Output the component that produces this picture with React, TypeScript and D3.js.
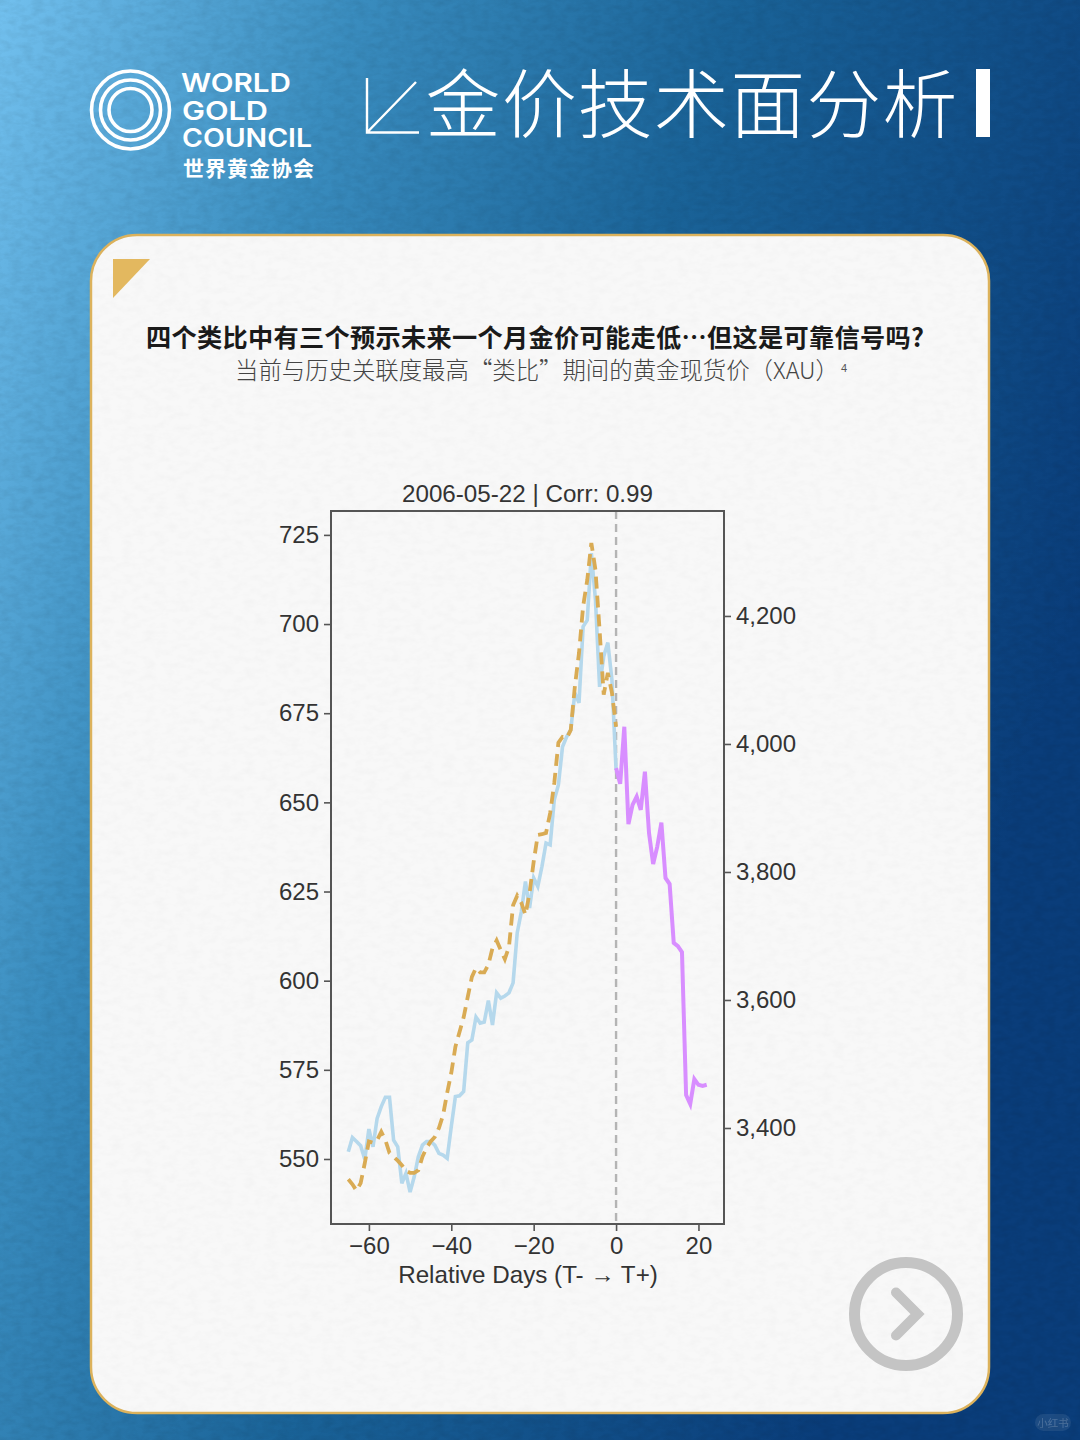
import { useEffect, useRef } from "react";
import * as d3 from "d3";

const width = 1080;
const height = 1440;

// historical analog, left axis
const pastValues = [
  552.0, 556.0, 554.9, 553.7, 549.9, 558.4, 553.4, 561.4, 564.7, 567.3, 567.3,
  555.3, 553.4, 543.2, 546.0, 540.7, 545.0, 550.6, 553.9, 554.9, 554.9, 553.9,
  551.6, 551.1, 550.2, 559.1, 567.5, 567.7, 568.9, 582.6, 583.4, 589.8, 588.1,
  588.4, 594.4, 587.6, 596.6, 595.1, 595.7, 596.6, 599.4, 613.4, 619.3, 627.8,
  620.4, 628.8, 626.4, 632.0, 638.6, 638.1, 650.7, 654.9, 665.6, 668.4, 670.3,
  680.7, 677.9, 699.3, 701.1, 719.9, 706.8, 682.4, 690.9, 694.8, 684.3, 659.1,
];
const futureValues = [
  659.6, 655.2, 671.2, 643.9, 649.3, 651.6, 647.9, 658.6, 641.4, 632.7, 637.6,
  644.3, 628.8, 627.1, 610.6, 609.7, 608.0, 567.9, 565.4, 572.4, 570.8, 570.5,
  570.8,
];
// current gold price, right axis
const currentValues = [
  3320, 3312, 3302, 3314, 3345, 3379, 3377, 3381, 3394, 3381, 3361, 3355, 3349,
  3342, 3333, 3330, 3330, 3334, 3355, 3369, 3379, 3386, 3400, 3420, 3455, 3486,
  3527, 3550, 3573, 3605, 3636, 3650, 3643, 3643, 3655, 3681, 3693, 3678, 3664,
  3683, 3748, 3763, 3752, 3733, 3767, 3816, 3858, 3859, 3861, 3892, 3939, 4002,
  4011, 4009, 4022, 4090, 4142, 4215, 4256, 4314, 4272, 4178, 4077, 4111, 4080,
  4027,
];
const pastDays = pastValues.map((_, i) => i - 65);
const futureDays = futureValues.map((_, i) => i);

const xTicks = [-60, -40, -20, 0, 20];
const leftTicks = [550, 575, 600, 625, 650, 675, 700, 725];
const rightTicks = [3400, 3600, 3800, 4000, 4200];

const frame = { left: 331, right: 724, top: 511, bottom: 1224 };
const chartFont = "'Liberation Sans', Arial, sans-serif";
const cjkFont = "'Noto Sans CJK SC', sans-serif";
const textColor = "#333";

export default function App() {
  const ref = useRef<SVGGElement | null>(null);

  useEffect(() => {
    if (!ref.current) return;
    const g = d3.select(ref.current);
    g.selectAll("*").remove();

    const x = d3.scaleLinear([-69.2, 26.2], [frame.left, frame.right]);
    const yLeft = d3.scaleLinear([531.77, 731.7], [frame.bottom, frame.top]);
    const yRight = d3.scaleLinear([3250, 4364], [frame.bottom, frame.top]);

    const styleAxis = (sel: any) => {
      sel.select("path").remove();
      sel.selectAll("line").attr("stroke", "#555").attr("stroke-width", 1.6);
      sel
        .selectAll("text")
        .attr("fill", textColor)
        .style("font-family", chartFont)
        .style("font-size", "24px");
    };

    g.append("g")
      .attr("transform", `translate(0,${frame.bottom})`)
      .call(d3.axisBottom(x).tickValues(xTicks).tickSize(7).tickPadding(6).tickFormat((d) => String(d).replace("-", "−")))
      .call(styleAxis);
    g.append("g")
      .attr("transform", `translate(${frame.left},0)`)
      .call(d3.axisLeft(yLeft).tickValues(leftTicks).tickSize(7).tickPadding(5).tickFormat((d) => String(d)))
      .call(styleAxis);
    g.append("g")
      .attr("transform", `translate(${frame.right},0)`)
      .call(d3.axisRight(yRight).tickValues(rightTicks).tickSize(7).tickPadding(5).tickFormat(d3.format(",")))
      .call(styleAxis);

    // marker at T
    g.append("line")
      .attr("x1", x(0))
      .attr("x2", x(0))
      .attr("y1", frame.top)
      .attr("y2", frame.bottom)
      .attr("stroke", "#b4b4b4")
      .attr("stroke-width", 2.4)
      .attr("stroke-dasharray", "8 5");

    const linePast = d3.line<number>().x((_, i) => x(pastDays[i])).y((d) => yLeft(d));
    const lineFuture = d3.line<number>().x((_, i) => x(futureDays[i])).y((d) => yLeft(d));
    const lineCurrent = d3.line<number>().x((_, i) => x(pastDays[i])).y((d) => yRight(d));

    g.append("path")
      .attr("d", linePast(pastValues))
      .attr("fill", "none")
      .attr("stroke", "#b5d8ec")
      .attr("stroke-width", 3.6);
    g.append("path")
      .attr("d", lineFuture(futureValues))
      .attr("fill", "none")
      .attr("stroke", "#d88eff")
      .attr("stroke-width", 4);
    g.append("path")
      .attr("d", lineCurrent(currentValues))
      .attr("fill", "none")
      .attr("stroke", "#d9ab54")
      .attr("stroke-width", 3.8)
      .attr("stroke-dasharray", "12 7");

    g.append("rect")
      .attr("x", frame.left)
      .attr("y", frame.top)
      .attr("width", frame.right - frame.left)
      .attr("height", frame.bottom - frame.top)
      .attr("fill", "none")
      .attr("stroke", "#555")
      .attr("stroke-width", 2);
  }, []);

  return (
    <svg
      width={width}
      height={height}
      viewBox={`0 0 ${width} ${height}`}
      style={{ position: "absolute", left: 0, top: 0 }}
    >
      <defs>
        <linearGradient id="bg" x1="0" y1="0" x2="1" y2="0.42">
          <stop offset="0" stopColor="#72c0ee" />
          <stop offset="0.28" stopColor="#3a8dbf" />
          <stop offset="0.58" stopColor="#1a6398" />
          <stop offset="1" stopColor="#0a3d7a" />
        </linearGradient>
        <filter id="paper" x="0" y="0" width="100%" height="100%">
          <feTurbulence type="fractalNoise" baseFrequency="0.09 0.16" numOctaves="3" seed="4" />
          <feColorMatrix values="0 0 0 0 0  0 0 0 0 0  0 0 0 0 0  0.16 0 0 0 -0.055" />
        </filter>
        <clipPath id="cardClip">
          <rect x={91} y={235} width={898} height={1178} rx={46} />
        </clipPath>
      </defs>

      <rect width={width} height={height} fill="url(#bg)" />
      <rect width={width} height={height} filter="url(#paper)" opacity={0.8} />

      {/* logo */}
      <g fill="none" stroke="#fff" strokeWidth={3.6}>
        <circle cx={130.5} cy={110} r={39} />
        <circle cx={130.5} cy={110} r={30} />
        <circle cx={130.5} cy={110} r={21.5} />
      </g>
      <text fill="#fff" style={{ fontFamily: "Inter, sans-serif", fontWeight: 600, fontSize: 25.5 }}>
        <tspan x={181} y={92} textLength={110} lengthAdjust="spacingAndGlyphs">WORLD</tspan>
        <tspan x={182} y={119.5} textLength={86} lengthAdjust="spacingAndGlyphs">GOLD</tspan>
        <tspan x={182} y={146.5} textLength={130} lengthAdjust="spacingAndGlyphs">COUNCIL</tspan>
      </text>
      <text x={183} y={176} fill="#fff" textLength={131} style={{ fontFamily: cjkFont, fontWeight: 700, fontSize: 21 }}>
        世界黄金协会
      </text>

      {/* header */}
      <path d="M367 78V132.5H419M416 82L367 132.5" fill="none" stroke="#fff" strokeWidth={2.4} />
      <text x={425.5} y={131.5} fill="#fff" textLength={532} style={{ fontFamily: cjkFont, fontWeight: 300, fontSize: 75 }}>
        金价技术面分析
      </text>
      <rect x={976} y={69} width={14} height={68} fill="#fff" />

      {/* card */}
      <rect x={91} y={235} width={898} height={1178} rx={46} fill="#f8f8f8" stroke="#dcb25c" strokeWidth={2.5} />
      <g clipPath="url(#cardClip)">
        <rect x={93} y={237} width={894} height={1174} filter="url(#paper)" opacity={0.22} />
      </g>
      <path d="M113 259H150L113 298Z" fill="#e3b85f" />

      <text x={146} y={347} fill="#1a1a1a" textLength={778} style={{ fontFamily: cjkFont, fontWeight: 700, fontSize: 25.2 }}>
        四个类比中有三个预示未来一个月金价可能走低…但这是可靠信号吗?
      </text>
      <text x={235} y={379} fill="#444" style={{ fontFamily: cjkFont, fontWeight: 300, fontSize: 23.4 }}>
        {"当前与历史关联度最高“类比”期间的黄金现货价\uFF08XAU\uFF09"}
      </text>
      <text x={841} y={372} fill="#555" style={{ fontFamily: chartFont, fontSize: 11 }}>4</text>

      {/* chart */}
      <text x={527.5} y={502} textAnchor="middle" fill={textColor} style={{ fontFamily: chartFont, fontSize: 24.2 }}>
        2006-05-22 | Corr: 0.99
      </text>
      <g ref={ref} />
      <text x={528} y={1283} textAnchor="middle" fill={textColor} style={{ fontFamily: chartFont, fontSize: 24.2 }}>
        Relative Days (T- → T+)
      </text>

      {/* next button */}
      <circle cx={906} cy={1314} r={51.5} fill="none" stroke="#c4c4c4" strokeWidth={11} />
      <path d="M896 1292.5L917.5 1314L896 1335.5" fill="none" stroke="#c4c4c4" strokeWidth={10} strokeLinecap="round" />

      {/* watermark */}
      <rect x={1035} y={1414} width={36} height={17} rx={8.5} fill="#fff" opacity={0.08} />
      <text x={1053} y={1427} textAnchor="middle" fill="#fff" opacity={0.2} style={{ fontFamily: cjkFont, fontSize: 10.5 }}>
        小红书
      </text>
    </svg>
  );
}
